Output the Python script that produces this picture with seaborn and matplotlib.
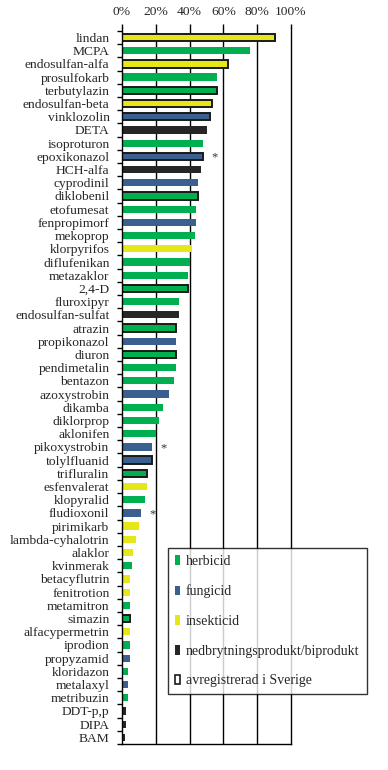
import numpy as np
import pandas as pd
import seaborn as sns
import matplotlib
matplotlib.use('Agg')
import matplotlib.pyplot as plt
from matplotlib.patches import Patch
from matplotlib.ticker import MultipleLocator

# data (share of samples, %)
names = ['lindan', 'MCPA', 'endosulfan-alfa', 'prosulfokarb', 'terbutylazin',
         'endosulfan-beta', 'vinklozolin', 'DETA', 'isoproturon', 'epoxikonazol',
         'HCH-alfa', 'cyprodinil', 'diklobenil', 'etofumesat', 'fenpropimorf',
         'mekoprop', 'klorpyrifos', 'diflufenikan', 'metazaklor', '2,4-D',
         'fluroxipyr', 'endosulfan-sulfat', 'atrazin', 'propikonazol', 'diuron',
         'pendimetalin', 'bentazon', 'azoxystrobin', 'dikamba', 'diklorprop',
         'aklonifen', 'pikoxystrobin', 'tolylfluanid', 'trifluralin', 'esfenvalerat',
         'klopyralid', 'fludioxonil', 'pirimikarb', 'lambda-cyhalotrin', 'alaklor',
         'kvinmerak', 'betacyflutrin', 'fenitrotion', 'metamitron', 'simazin',
         'alfacypermetrin', 'iprodion', 'propyzamid', 'kloridazon', 'metalaxyl',
         'metribuzin', 'DDT-p,p', 'DIPA', 'BAM']
values = [90.5, 76, 63, 56, 56, 53, 52, 50, 48, 48,
          46.5, 45, 45, 44, 44, 43, 41, 40, 39, 39,
          34, 34, 32, 32, 32, 32, 31, 28, 24, 22,
          20, 18, 18, 15, 15, 13.5, 11.5, 10, 8.5, 6.3,
          6, 5, 5, 5, 5, 4.5, 4.5, 4.5, 3.4, 3.4,
          3.4, 2.2, 2.2, 1.6]
# H = herbicid, F = fungicid, I = insekticid, N = nedbrytningsprodukt/biprodukt
groups = ['I', 'H', 'I', 'H', 'H', 'I', 'F', 'N', 'H', 'F',
          'N', 'F', 'H', 'H', 'F', 'H', 'I', 'H', 'H', 'H',
          'H', 'N', 'H', 'F', 'H', 'H', 'H', 'F', 'H', 'H',
          'H', 'F', 'F', 'H', 'I', 'H', 'F', 'I', 'I', 'I',
          'H', 'I', 'I', 'H', 'H', 'I', 'H', 'F', 'H', 'F',
          'H', 'N', 'N', 'N']
avregistrerad = ['lindan', 'endosulfan-alfa', 'terbutylazin', 'endosulfan-beta',
                 'vinklozolin', 'epoxikonazol', 'diklobenil', '2,4-D', 'atrazin',
                 'diuron', 'tolylfluanid', 'trifluralin', 'simazin']
starred = ['epoxikonazol', 'pikoxystrobin', 'fludioxonil']

group_colors = {'H': '#00b050', 'F': '#3a6090', 'I': '#e6e619', 'N': '#262626'}
group_labels = {'H': 'herbicid', 'F': 'fungicid', 'I': 'insekticid',
                'N': 'nedbrytningsprodukt/biprodukt'}

df = pd.DataFrame({'name': names, 'value': values, 'group': groups})

sns.set_style('white')
plt.rcParams['font.family'] = ['Liberation Serif', 'DejaVu Serif']
plt.rcParams['font.size'] = 9.7

fig = plt.figure(figsize=(3.88, 7.70), dpi=100)
ax = fig.add_axes([122 / 388, 1 - 744 / 770, 169 / 388, 716 / 770])

pal = {n: group_colors[g] for n, g in zip(names, groups)}
sns.barplot(data=df, x='value', y='name', hue='name', palette=pal,
            orient='h', width=0.55, saturation=1, legend=False, ax=ax)

# black outline on substances no longer registered
for p, n in zip(ax.patches, names):
    if n in avregistrerad:
        p.set_edgecolor('#1a1a1a')
        p.set_linewidth(1.4)
    else:
        p.set_linewidth(0)

for n in starred:
    i = names.index(n)
    ax.annotate('*', (values[i], i), xytext=(8, -1), textcoords='offset points',
                va='center', ha='center', fontsize=9, color='#333333')

ax.set_xlim(0, 100)
ax.set_ylim(len(names) - 0.5, -0.72)
ax.xaxis.tick_top()
ax.set_xticks([0, 20, 40, 60, 80, 100])
ax.set_xticklabels(['0%', '20%', '40%', '60%', '80%', '100%'])
ax.tick_params(axis='x', direction='out', length=3, width=1, pad=4.5, color='black')
ax.tick_params(axis='y', which='major', length=0, pad=9)
ax.yaxis.set_minor_locator(MultipleLocator(1, offset=0.5))
ax.tick_params(axis='y', which='minor', length=3.5, width=1, color='black', left=True)
ax.set_xlabel('')
ax.set_ylabel('')
for x in [20, 40, 60, 80]:
    ax.axvline(x, color='black', lw=1, zorder=0)
for s in ['left', 'bottom', 'right']:
    ax.spines[s].set_visible(True)
    ax.spines[s].set_color('black')
    ax.spines[s].set_linewidth(1)
ax.spines['top'].set_visible(False)

handles = [Patch(facecolor=group_colors[g], edgecolor='none', label=group_labels[g])
           for g in ['H', 'F', 'I', 'N']]
handles.append(Patch(facecolor='white', edgecolor='#1a1a1a', linewidth=1.2,
                     label='avregistrerad i Sverige'))
leg = fig.legend(handles=handles, loc='upper left',
                 bbox_to_anchor=(168 / 388, 1 - 548 / 770),
                 frameon=True, fancybox=False, edgecolor='black',
                 handlelength=0.35, handleheight=0.7, handletextpad=0.45,
                 labelspacing=1.2, borderpad=0.5, borderaxespad=0,
                 fontsize=10)
leg.get_frame().set_linewidth(1)
leg.get_frame().set_boxstyle('square', pad=0)

fig.savefig('out.png', dpi=100)
